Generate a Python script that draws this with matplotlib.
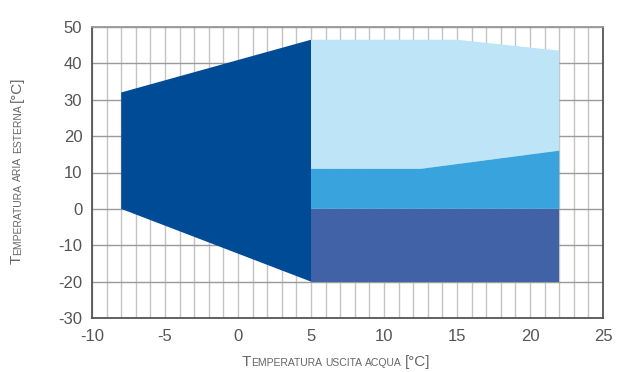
#!/usr/bin/env python3
# plot.py - operating envelope chart (water outlet temp vs outdoor air temp)

import matplotlib
matplotlib.use("Agg")
import matplotlib.pyplot as plt
from matplotlib import font_manager
from matplotlib.ticker import MultipleLocator

# envelope outlines (x = water outlet temp, y = outdoor air temp)
dark_x = [-8, -8, 5, 5]
dark_y = [0, 32, 46.5, -20]

light_x = [5, 12.5, 22, 22, 15, 5]
light_y = [11, 11, 16, 43.5, 46.5, 46.5]

mid_x = [5, 22, 22, 12.5, 5]
mid_y = [0, 0, 16, 11, 11]

low_x = [5, 22, 22, 5]
low_y = [-20, -20, 0, 0]

x_ticks = [-10, -5, 0, 5, 10, 15, 20, 25]
y_ticks = [-30, -20, -10, 0, 10, 20, 30, 40, 50]

colors = {"dark": "#004b96", "light": "#bee4f8", "mid": "#38a3dc", "low": "#4262a8"}

# prefer a narrow face if one is installed
names = {f.name for f in font_manager.fontManager.ttflist}
FONT = [n for n in ["Liberation Sans Narrow", "Liberation Sans", "DejaVu Sans"] if n in names]
GREY = "#555555"
plt.rcParams["axes.unicode_minus"] = False

fig = plt.figure(figsize=(6.19, 3.72), dpi=100)
ax = fig.add_axes([92 / 619, 1 - 318 / 372, 511 / 619, 291 / 372])

ax.fill(dark_x, dark_y, color=colors["dark"], lw=0, zorder=3)
ax.fill(light_x, light_y, color=colors["light"], lw=0, zorder=3)
ax.fill(mid_x, mid_y, color=colors["mid"], lw=0, zorder=3)
ax.fill(low_x, low_y, color=colors["low"], lw=0, zorder=3)

ax.set_xlim(-10, 25)
ax.set_ylim(-30, 50)
ax.set_xticks(x_ticks)
ax.set_yticks(y_ticks)
ax.xaxis.set_minor_locator(MultipleLocator(1))
ax.grid(which="both", axis="x", color="#c4c4c4", lw=1.0, zorder=1)
ax.grid(which="major", axis="y", color="#9a9a9a", lw=1.0, zorder=1)
ax.set_axisbelow(True)
ax.tick_params(which="both", length=0, labelsize=12, labelcolor=GREY)
ax.tick_params(axis="x", pad=8)
ax.tick_params(axis="y", pad=7)
for lab in ax.get_xticklabels() + ax.get_yticklabels():
    lab.set_family(FONT)

for s in ax.spines.values():
    s.set_color("#555555")
    s.set_linewidth(1.3)
ax.spines["top"].set_color("#999999")


def small_caps(x, y, word_parts, rotation=0, gap=3):
    # pseudo small-caps label: pieces of (text, size, space_after) laid end to end, centred
    renderer = fig.canvas.get_renderer()
    texts = []
    for txt, size, _ in word_parts:
        t = fig.text(0, 0, txt, fontsize=size, family=FONT, color="#666666",
                     rotation=rotation, va="baseline", ha="left",
                     rotation_mode="anchor")
        texts.append(t)
    widths = []
    for t, (_, _, sp) in zip(texts, word_parts):
        bb = t.get_window_extent(renderer)
        widths.append((bb.height if rotation else bb.width) + (gap if sp else 0))
    px, py = fig.transFigure.transform((x, y))
    off = -sum(widths) / 2
    inv = fig.transFigure.inverted()
    for t, w in zip(texts, widths):
        if rotation:
            t.set_position(inv.transform((px, py + off)))
        else:
            t.set_position(inv.transform((px + off, py)))
        off += w


small_caps(0.543, 0.015,
           [("T", 11, False), ("EMPERATURA", 7.5, True), ("USCITA", 7.5, True),
            ("ACQUA", 7.5, True), ("[°C]", 11, False)])
small_caps(0.034, 0.543,
           [("T", 11, False), ("EMPERATURA", 7.5, True), ("ARIA", 7.5, True),
            ("ESTERNA", 7.5, True), ("[°C]", 11, False)], rotation=90)

fig.savefig("out.png", dpi=100)
